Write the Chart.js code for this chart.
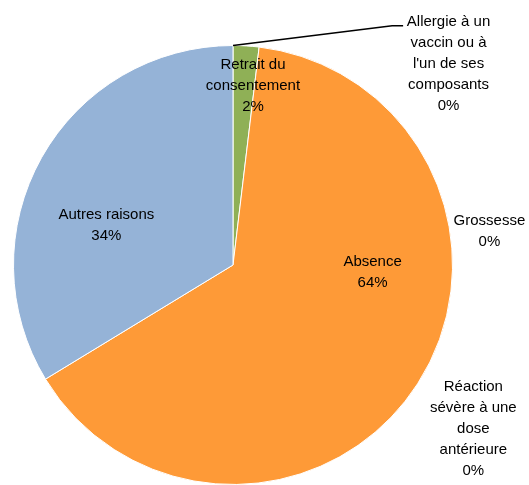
<!DOCTYPE html>
<html>
<head>
<meta charset="utf-8">
<script src="https://cdn.jsdelivr.net/npm/chart.js@4/dist/chart.umd.min.js"></script>
<style>
  html, body { margin: 0; padding: 0; background: #fff; }
  #wrap { width: 529px; height: 485px; position: relative; }
</style>
</head>
<body>
<div id="wrap"><canvas id="chart-reasons"></canvas></div>
<script>
// Reasons for non-vaccination, share of answers
const categories = [
  ["Allergie à un", "vaccin ou à", "l'un de ses", "composants"],
  ["Retrait du", "consentement"],
  ["Absence"],
  ["Grossesse"],
  ["Réaction", "sévère à une", "dose", "antérieure"],
  ["Autres raisons"]
];
const counts = [0, 19, 644, 0, 0, 337];
const sliceColors = ['#4F81BD', '#8FB056', '#FE9A37', '#8064A2', '#4BACC6', '#95B3D7'];

// label block centres, in pie radii relative to the pie centre (Excel placement)
const labelSpots = [
  [0.982, -0.918], [0.091, -0.818], [0.636, 0.032],
  [1.168, -0.155], [1.095, 0.745], [-0.577, -0.182]
];

const pieLabels = {
  id: 'pieLabels',
  afterDatasetsDraw(chart) {
    const { ctx } = chart;
    const meta = chart.getDatasetMeta(0);
    const total = counts.reduce((a, b) => a + b, 0);
    const first = meta.data[0];
    const r = first.outerRadius;
    const cx = first.x, cy = first.y;

    ctx.save();
    // leader line for the first (empty) slice
    const a0 = first.startAngle;
    ctx.strokeStyle = '#000';
    ctx.lineWidth = 1.5;
    ctx.beginPath();
    ctx.moveTo(cx + r * Math.cos(a0), cy + r * Math.sin(a0));
    ctx.lineTo(cx + 0.725 * r, cy - 1.09 * r);
    ctx.lineTo(cx + 0.775 * r, cy - 1.09 * r);
    ctx.stroke();

    ctx.fillStyle = '#000';
    ctx.font = '15px "Liberation Sans", Arial, sans-serif';
    ctx.textAlign = 'center';
    ctx.textBaseline = 'middle';
    const lh = 21;
    categories.forEach((lines, i) => {
      const pct = Math.round(counts[i] / total * 100) + '%';
      const all = lines.concat([pct]);
      const bx = cx + labelSpots[i][0] * r;
      const by = cy + labelSpots[i][1] * r;
      const top = by - (all.length - 1) * lh / 2;
      all.forEach((t, k) => ctx.fillText(t, bx, top + k * lh));
    });
    ctx.restore();
  }
};

new Chart(document.getElementById('chart-reasons'), {
  type: 'pie',
  data: {
    labels: categories.map(l => l.join(' ')),
    datasets: [{
      data: counts,
      backgroundColor: sliceColors,
      borderColor: '#fff',
      borderWidth: c => (c.raw > 0 ? 1 : 0)
    }]
  },
  options: {
    responsive: true,
    maintainAspectRatio: false,
    animation: false,
    layout: { padding: { left: 13, right: 76, top: 45, bottom: 0 } },
    plugins: {
      legend: { display: false },
      tooltip: { enabled: false }
    }
  },
  plugins: [pieLabels]
});
</script>
</body>
</html>
